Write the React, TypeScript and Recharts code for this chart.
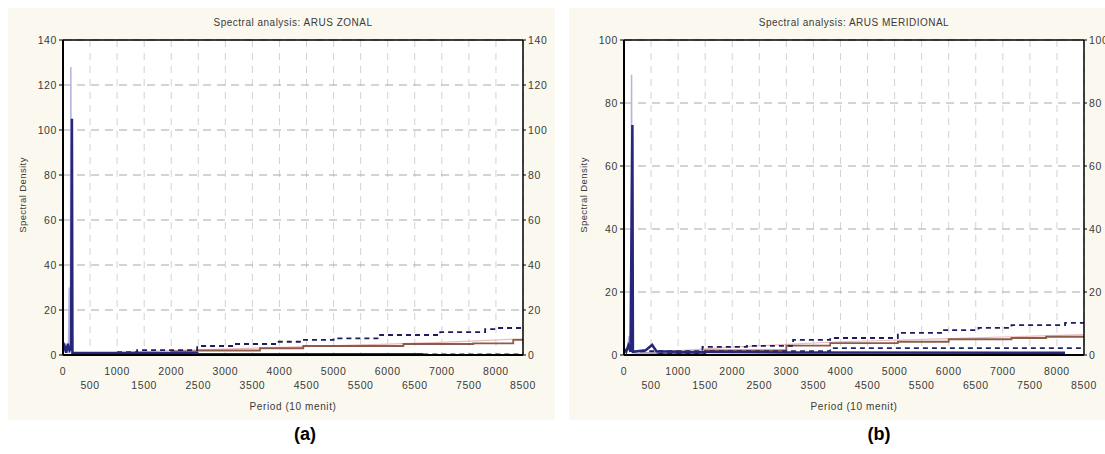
import { ComposedChart, Line, XAxis, YAxis, CartesianGrid, ReferenceLine } from 'recharts';

// period axis (10 menit) ticks, shared by both panels
const periodTicks = [0, 500, 1000, 1500, 2000, 2500, 3000, 3500, 4000, 4500, 5000, 5500, 6000, 6500, 7000, 7500, 8000, 8500];
const zonalTicks = [0, 20, 40, 60, 80, 100, 120, 140];
const meridTicks = [0, 20, 40, 60, 80, 100];

// ARUS ZONAL  [period, spectral density]
const zonalThin = [[0, 2], [60, 1], [100, 3], [115, 30], [125, 2], [135, 5], [145, 128], [152, 1], [200, 0.5], [600, 0.6]];
const zonalDensity = [[0, 2], [30, 4], [60, 1], [90, 5], [120, 2], [150, 3], [165, 105], [175, 0.9], [1300, 0.9], [2480, 0.8], [2500, 0.3], [6660, 0.3]];
const zonalSmooth = [[150, 0.3], [1300, 1.0], [2000, 1.6], [2480, 2.0], [3640, 3.0], [4440, 4.0], [6290, 4.9], [7580, 5.2], [8320, 6.7], [8500, 6.7]];
const zonalPink = [[500, 0.5], [2000, 2.0], [4000, 3.4], [6000, 4.8], [7000, 5.6], [8500, 7.2]];
const zonalUpper = [[1000, 1.3], [1370, 2.2], [2480, 4.0], [3150, 4.9], [3960, 5.9], [4400, 6.7], [5000, 7.4], [5860, 8.9], [6970, 10.2], [7800, 11.5], [8000, 12.0], [8500, 12.0]];
const zonalLower = [[6660, 0.3], [8500, 0.3]];

// ARUS MERIDIONAL
const meridThin = [[0, 1], [60, 2], [95, 6], [105, 1], [130, 3], [140, 89], [148, 1], [200, 0.5], [600, 0.6]];
const meridDensity = [[0, 2], [40, 1], [80, 3], [120, 1], [155, 73], [165, 1], [400, 1.5], [520, 3.2], [600, 1.2], [1000, 1], [3000, 0.8], [8150, 0.7]];
const meridSmooth = [[300, 0.5], [1500, 1.5], [3000, 3.0], [3810, 3.8], [5060, 4.2], [6000, 5.0], [7160, 5.4], [7800, 5.8], [8500, 5.8]];
const meridPink = [[300, 0.6], [2000, 2.5], [4000, 4.2], [6000, 5.2], [8500, 6.5]];
const meridUpper = [[300, 1.2], [1450, 2.6], [2270, 2.9], [3125, 4.8], [3810, 5.4], [5060, 7.0], [5860, 7.9], [6550, 8.6], [7160, 9.5], [8150, 10.2], [8500, 10.2]];
const meridLower = [[300, 0.5], [1500, 1.2], [3810, 2.2], [8500, 2.2]];

const pts = (a: number[][]) => a.map(([p, v]) => ({ p, v }));
const font = '"Liberation Sans", Arial, sans-serif';
const txt = '#3a3a3a';

function PeriodTick({ x, y, payload }: any) {
  const major = payload.value % 1000 === 0;
  return (
    <text x={x} y={y + (major ? 12 : 26)} textAnchor="middle" fontSize={10.5} fill={txt} fontFamily={font} letterSpacing={0.6}>
      {payload.value}
    </text>
  );
}

function Panel({ left, width, title, max, ticks, thin, density, smooth, pink, upper, lower, lowerColor }: any) {
  const tickStyle = { fontSize: 10.5, fill: txt, fontFamily: font, letterSpacing: 0.6 };
  return (
    <div style={{ position: 'absolute', left, top: 8, width, height: 412, background: '#fbf9ef' }}>
      <ComposedChart width={547} height={412} margin={{ top: 32, right: 0, bottom: 0, left: 0 }}>
        <CartesianGrid yAxisId="l" fill="#ffffff" stroke="#d2d2d2" strokeDasharray="7 6" horizontal={false} />
        <CartesianGrid yAxisId="l" stroke="#a8a8a8" strokeDasharray="8 6" vertical={false} />
        <XAxis dataKey="p" type="number" domain={[0, 8500]} ticks={periodTicks} allowDataOverflow
          height={65} tick={<PeriodTick />} tickLine={false} axisLine={{ stroke: '#000', strokeWidth: 2 }} interval={0} />
        <YAxis yAxisId="l" type="number" domain={[0, max]} ticks={ticks} width={55} allowDataOverflow
          tick={tickStyle} tickSize={4} tickLine={{ stroke: '#000' }} axisLine={{ stroke: '#000', strokeWidth: 2 }} />
        <YAxis yAxisId="r" orientation="right" type="number" domain={[0, max]} ticks={ticks} width={32} allowDataOverflow
          tick={tickStyle} tickSize={3} tickLine={{ stroke: '#000' }} axisLine={{ stroke: '#000', strokeWidth: 1.5 }} />
        <ReferenceLine yAxisId="l" y={max} stroke="#000" strokeWidth={1.5} />
        <Line yAxisId="l" data={pts(pink)} dataKey="v" type="linear" stroke="#ebbcbc" strokeWidth={1.2} dot={false} isAnimationActive={false} />
        <Line yAxisId="l" data={pts(smooth)} dataKey="v" type="stepAfter" stroke="#8c5b4c" strokeWidth={1.8} dot={false} isAnimationActive={false} />
        <Line yAxisId="l" data={pts(upper)} dataKey="v" type="stepAfter" stroke="#1c1c5e" strokeWidth={1.8} strokeDasharray="5 4" dot={false} isAnimationActive={false} />
        <Line yAxisId="r" data={pts(lower)} dataKey="v" type="stepAfter" stroke={lowerColor} strokeWidth={1.8} strokeDasharray="5 4" dot={false} isAnimationActive={false} />
        <Line yAxisId="l" data={pts(thin)} dataKey="v" type="linear" stroke="#b4b4e2" strokeWidth={1.5} dot={false} isAnimationActive={false} />
        <Line yAxisId="l" data={pts(density)} dataKey="v" type="linear" stroke="#26267a" strokeWidth={2.5} dot={false} isAnimationActive={false} />
      </ComposedChart>
      <div style={{ position: 'absolute', left: 55, width: 460, top: 9, textAlign: 'center', fontSize: 10, letterSpacing: 0.5, color: txt, fontFamily: font }}>{title}</div>
      <div style={{ position: 'absolute', left: 14, top: 187, width: 0, height: 0 }}>
        <div style={{ position: 'absolute', transform: 'translate(-50%, -50%) rotate(-90deg)', whiteSpace: 'nowrap', fontSize: 9.5, letterSpacing: 0.4, color: txt, fontFamily: font }}>Spectral Density</div>
      </div>
      <div style={{ position: 'absolute', left: 55, width: 460, top: 393, textAlign: 'center', fontSize: 10, letterSpacing: 0.6, color: txt, fontFamily: font }}>Period (10 menit)</div>
    </div>
  );
}

export default function App() {
  return (
    <div style={{ position: 'fixed', left: 0, top: 0, width: 1105, height: 454, background: '#fff', overflow: 'hidden' }}>
      <Panel left={8} width={547} title="Spectral analysis: ARUS ZONAL" max={140} ticks={zonalTicks}
        thin={zonalThin} density={zonalDensity} smooth={zonalSmooth} pink={zonalPink} upper={zonalUpper} lower={zonalLower} lowerColor="#222" />
      <Panel left={569} width={547} title="Spectral analysis: ARUS MERIDIONAL" max={100} ticks={meridTicks}
        thin={meridThin} density={meridDensity} smooth={meridSmooth} pink={meridPink} upper={meridUpper} lower={meridLower} lowerColor="#23236a" />
      <div style={{ position: 'absolute', left: 280, width: 50, top: 424, textAlign: 'center', fontSize: 18, fontWeight: 'bold', fontFamily: font }}>(a)</div>
      <div style={{ position: 'absolute', left: 854, width: 50, top: 424, textAlign: 'center', fontSize: 18, fontWeight: 'bold', fontFamily: font }}>(b)</div>
    </div>
  );
}
